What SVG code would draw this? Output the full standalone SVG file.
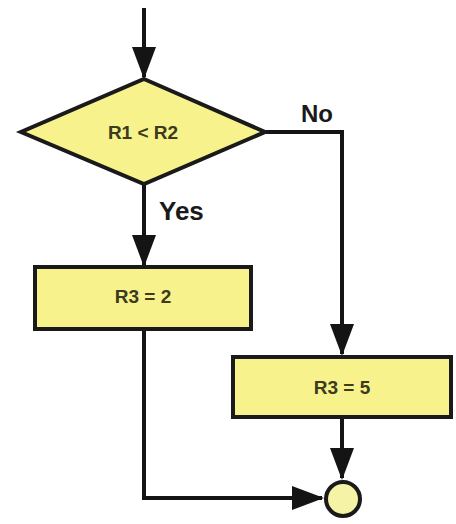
<svg xmlns="http://www.w3.org/2000/svg" width="456" height="524" viewBox="0 0 456 524">
<style>
.shape{fill:#f7f28c;stroke:#1a1a1a;stroke-width:4;stroke-linejoin:miter}
.line{fill:none;stroke:#141414;stroke-width:4}
.lbl{font-family:"Liberation Sans",Arial,sans-serif;font-weight:bold;fill:#3b3b1e;text-anchor:middle}
.edge{font-family:"Liberation Sans",Arial,sans-serif;font-weight:bold;fill:#1a1a1a}
</style>
<defs>
<marker id="ah" markerWidth="8" markerHeight="6" refX="7.5" refY="3" orient="auto" markerUnits="strokeWidth">
<path d="M0,0 L8,3 L0,6 z" fill="#141414"/>
</marker>
</defs>
<rect width="456" height="524" fill="#ffffff"/>
<g id="connectors">
<path class="line" d="M144,8 V77" marker-end="url(#ah)"/>
<path class="line" d="M144,185 V265" marker-end="url(#ah)"/>
<path class="line" d="M266,132 H342 V354" marker-end="url(#ah)"/>
<path class="line" d="M342,418 V478" marker-end="url(#ah)"/>
<path class="line" d="M144,330 V498 H322" marker-end="url(#ah)"/>
<text class="edge" x="301" y="122" font-size="24">No</text>
<text class="edge" x="159" y="220" font-size="26">Yes</text>
</g>
<g id="decision">
<polygon class="shape" points="144,79 265,132 144,184 21,132"/>
<text class="lbl" x="143" y="139" font-size="19">R1 &lt; R2</text>
</g>
<g id="r3eq2">
<rect class="shape" x="35" y="267" width="216" height="62"/>
<text class="lbl" x="143" y="303" font-size="19">R3 = 2</text>
</g>
<g id="r3eq5">
<rect class="shape" x="233" y="357" width="218" height="60"/>
<text class="lbl" x="342" y="394" font-size="19">R3 = 5</text>
</g>
<g id="end">
<circle cx="343" cy="499" r="17" fill="#f5f3a6" stroke="#1a1a1a" stroke-width="4"/>
</g>
</svg>
